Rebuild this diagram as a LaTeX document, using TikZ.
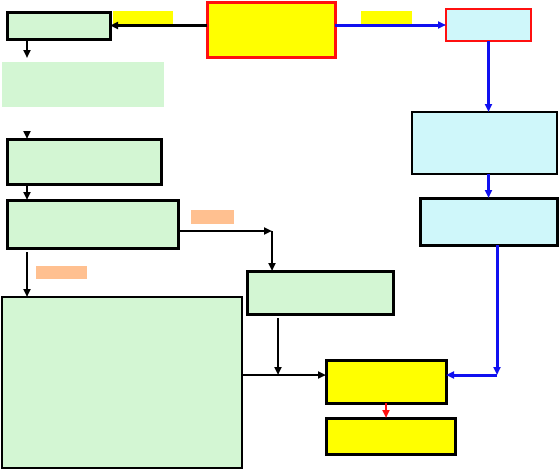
\documentclass[tikz,border=0pt]{standalone}
\usepackage{xcolor}
\usepackage{tikz}
\usetikzlibrary{arrows.meta}
\definecolor{FlowGreen}{HTML}{D3F6D3}
\definecolor{FlowCyan}{HTML}{CFF7FA}
\definecolor{FlowYellow}{HTML}{FFFF00}
\definecolor{FlowOrange}{HTML}{FFC090}
\definecolor{FlowBlue}{HTML}{1010F0}
\definecolor{FlowRed}{HTML}{FF1010}
\tikzset{
  box/.style={anchor=north west,inner sep=0pt,outer sep=0pt},
  greenbox/.style={box,fill=FlowGreen,draw=black,line width=3pt},
  cyanbox/.style={box,fill=FlowCyan,draw=black,line width=3pt},
  yellowbox/.style={box,fill=FlowYellow,draw=black,line width=3pt},
  tag/.style={box,draw=none},
  conn/.style={line width=2.4pt,-{Triangle[length=8pt,width=7pt]}},
  blueconn/.style={conn,FlowBlue,line width=3pt},
  redconn/.style={conn,FlowRed,line width=2.4pt}
}
\begin{document}
\begin{tikzpicture}[x=1pt,y=-1pt]
\path[use as bounding box] (0,0) rectangle (559,471);
% top row
\node[greenbox,minimum width=103,minimum height=27] (top) at (7,12) {};
\node[tag,fill=FlowYellow,minimum width=60,minimum height=14] (tagl) at (113,11) {};
\node[box,fill=FlowYellow,draw=FlowRed,line width=3pt,minimum width=128,minimum height=55] (src) at (207,2) {};
\node[tag,fill=FlowYellow,minimum width=51,minimum height=14] (tagr) at (361,11) {};
\node[box,fill=FlowCyan,draw=FlowRed,line width=1.2pt,minimum width=85,minimum height=32] (cyantop) at (446,9) {};
% left column
\node[box,fill=FlowGreen,minimum width=162,minimum height=45] (note) at (2,62) {};
\node[greenbox,minimum width=154,minimum height=45] (stepa) at (7,139) {};
\node[greenbox,minimum width=171,minimum height=48] (stepb) at (7,200) {};
\node[tag,fill=FlowOrange,minimum width=43,minimum height=14] (tagb) at (191,210) {};
\node[tag,fill=FlowOrange,minimum width=51,minimum height=13] (tagc) at (36,266) {};
\node[greenbox,minimum width=146,minimum height=43] (stepc) at (247,271) {};
\node[greenbox,line width=2.6pt,minimum width=240,minimum height=171] (big) at (2,297) {};
% right column
\node[cyanbox,line width=1.4pt,minimum width=145,minimum height=62] (cyanmid) at (412,112) {};
\node[cyanbox,minimum width=137,minimum height=47] (cyanlow) at (420,198) {};
% results
\node[yellowbox,minimum width=120,minimum height=43] (res) at (326,360) {};
\node[yellowbox,minimum width=129,minimum height=36] (final) at (326,418) {};
% join points
\coordinate (lx) at (27,0);
\coordinate (rj) at (272,231);
\coordinate (mj) at (278,375);
\coordinate (bj) at (497,375);
% connectors
\draw[conn] (src.west |- top.east) -- (top.east);
\draw[blueconn] (src.east |- cyantop.west) -- (cyantop.west);
\draw[blueconn] (cyantop.south) -- (cyantop.south |- cyanmid.north);
\draw[blueconn] (cyanmid.south -| cyantop.south) -- (cyanlow.north -| cyantop.south);
\draw[blueconn] (cyanlow.south -| bj) -- (bj);
\draw[blueconn] (bj) -- (res.east |- bj);
\draw[conn] (top.south -| lx) -- ([yshift=4]note.north -| lx);
\draw[conn] ([yshift=8]stepa.north -| lx) -- (stepa.north -| lx);
\draw[conn] (stepa.south -| lx) -- (stepb.north -| lx);
\draw[conn] ([yshift=-4]stepb.south -| lx) -- (big.north -| lx);
\draw[conn] (stepb.east |- rj) -- (rj);
\draw[conn] (rj) -- (stepc.north -| rj);
\draw[conn] ([yshift=-4]stepc.south -| mj) -- (mj);
\draw[conn] (big.east |- mj) -- (res.west |- mj);
\draw[redconn] (res.south) -- (res.south |- final.north);
\end{tikzpicture}
\end{document}
